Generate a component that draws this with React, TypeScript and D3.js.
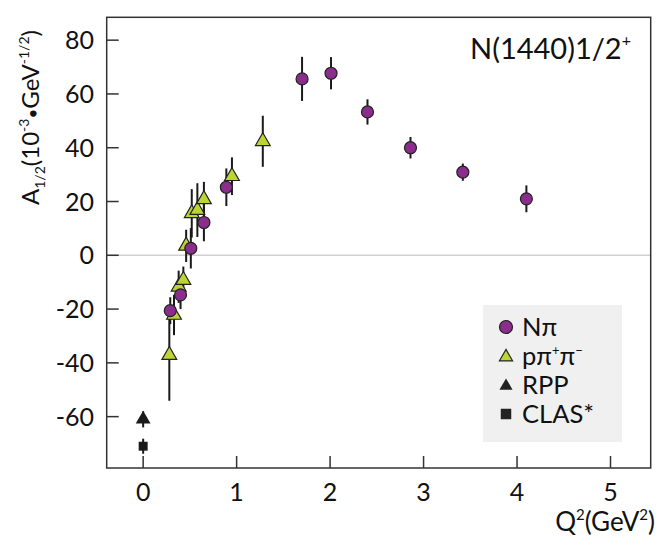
import React from 'react';
import * as d3 from 'd3';

// N pi analysis
const npiQ2 = [0.29, 0.4, 0.51, 0.65, 0.89, 1.7, 2.01, 2.4, 2.86, 3.42, 4.1];
const npiA = [-20.6, -14.7, 2.6, 12.2, 25.3, 65.6, 67.7, 53.3, 40.0, 30.9, 21.0];
const npiErr = [5, 5.3, 7.5, 7, 7, 8.2, 6, 4.7, 4, 3.2, 5];

// p pi+ pi- analysis
const pipiQ2 = [0.28, 0.33, 0.38, 0.43, 0.46, 0.52, 0.58, 0.65, 0.95, 1.28];
const pipiA = [-37.1, -22.2, -11.7, -9.2, 3.5, 15.6, 16.8, 20.8, 29.4, 42.4];
const pipiErr = [17, 7.5, 6, 5, 6, 9, 10, 6.5, 7, 9.5];

// photon points
const rppQ2 = [0];
const rppA = [-61];
const rppErr = [3];
const clasQ2 = [0];
const clasA = [-71];
const clasErr = [2.8];

const xTicks = [0, 1, 2, 3, 4, 5];
const yTicks = [-60, -40, -20, 0, 20, 40, 60, 80];

const W = 664;
const H = 546;
const m = { left: 106.7, top: 17.3, right: 650.7, bottom: 468 };
const PURPLE = '#8a2d8d';
const GREEN = '#bcd532';
const FONT = "Lato, 'Open Sans', sans-serif";

export default function App() {
  const x = d3.scaleLinear().domain([-0.39, 5.43]).range([m.left, m.right]);
  const y = d3.scaleLinear().domain([-79.1, 88.5]).range([m.bottom, m.top]);

  const tri = d3.symbol(d3.symbolTriangle, 95)();
  const triLeg = d3.symbol(d3.symbolTriangle, 75)();
  const sq = d3.symbol(d3.symbolSquare, 80)();
  const sqLeg = d3.symbol(d3.symbolSquare, 110)();

  const bars = (xs: number[], ys: number[], es: number[], key: string) =>
    xs.map((q, i) => (
      <line
        key={`${key}-${i}`}
        x1={x(q)}
        x2={x(q)}
        y1={y(ys[i] - es[i])}
        y2={y(ys[i] + es[i])}
        stroke="#1a1a1a"
        strokeWidth={2}
      />
    ));

  const legend = [
    { label: 'Nπ', kind: 'circle' },
    { label: 'pipi', kind: 'tri' },
    { label: 'RPP', kind: 'rpp' },
    { label: 'CLAS*', kind: 'clas' }
  ];

  return (
    <svg width={W} height={H} style={{ position: 'absolute', left: 0, top: 0 }} fontFamily={FONT}>
      <rect width={W} height={H} fill="#fff" />
      {/* zero line */}
      <line x1={m.left} x2={m.right} y1={y(0)} y2={y(0)} stroke="#d0d0d0" strokeWidth={1.5} />

      {/* legend */}
      <rect x={483} y={305} width={139} height={137} fill="#f0f0f0" />
      {legend.map((l, i) => {
        const cy = 327 + i * 29;
        const cx = 506;
        return (
          <g key={l.label}>
            {l.kind === 'circle' && (
              <circle cx={cx} cy={cy} r={6.5} fill={PURPLE} stroke="#222" strokeWidth={1.2} />
            )}
            {l.kind === 'tri' && (
              <path d={triLeg} transform={`translate(${cx},${cy + 1})`} fill={GREEN} stroke="#222" strokeWidth={1.2} />
            )}
            {l.kind === 'rpp' && <path d={triLeg} transform={`translate(${cx},${cy + 1})`} fill="#222" />}
            {l.kind === 'clas' && <path d={sqLeg} transform={`translate(${cx},${cy})`} fill="#222" />}
            <text x={522} y={cy + 9} fontSize={25.5} fill="#111">
              {l.kind === 'tri' ? (
                <>
                  pπ<tspan fontSize={13} dy={-10}>+</tspan>
                  <tspan dy={10}>π</tspan>
                  <tspan fontSize={13} dy={-10}>−</tspan>
                </>
              ) : (
                l.label
              )}
            </text>
          </g>
        );
      })}

      {/* frame */}
      <rect
        x={m.left}
        y={m.top}
        width={m.right - m.left}
        height={m.bottom - m.top}
        fill="none"
        stroke="#333"
        strokeWidth={1.5}
      />

      {/* y ticks */}
      {yTicks.map((t) => (
        <g key={`y${t}`}>
          <line x1={m.left} x2={m.left + 12} y1={y(t)} y2={y(t)} stroke="#333" strokeWidth={1.5} />
          <text x={94} y={y(t)} dy="0.36em" textAnchor="end" fontSize={25} fill="#111">
            {t}
          </text>
        </g>
      ))}
      {/* x ticks */}
      {xTicks.map((t) => (
        <g key={`x${t}`}>
          <line x1={x(t)} x2={x(t)} y1={m.bottom} y2={m.bottom - 12} stroke="#333" strokeWidth={1.5} />
          <text x={x(t)} y={501} textAnchor="middle" fontSize={25} fill="#111">
            {t}
          </text>
        </g>
      ))}

      {/* axis titles */}
      <text x={655} y={531} textAnchor="end" fontSize={26} fill="#111">
        Q<tspan fontSize={15} dy={-11}>2</tspan>
        <tspan dy={11}>(GeV</tspan>
        <tspan fontSize={15} dy={-11}>2</tspan>
        <tspan dy={11}>)</tspan>
      </text>
      <text transform="translate(39,205) rotate(-90)" fontSize={24} fill="#111">
        A<tspan fontSize={14} dy={6}>1/2</tspan>
        <tspan dy={-6}>(10</tspan>
        <tspan fontSize={14} dy={-10}>-3</tspan>
        <tspan dy={10} fontSize={17}>•</tspan>
        <tspan>GeV</tspan>
        <tspan fontSize={14} dy={-10}>-1/2</tspan>
        <tspan dy={10}>)</tspan>
      </text>

      {/* title */}
      <text x={470} y={59} fontSize={29} fill="#111">
        N(1440)1/2<tspan fontSize={16} dy={-13}>+</tspan>
      </text>

      {/* error bars */}
      {bars(pipiQ2, pipiA, pipiErr, 'pe')}
      {bars(npiQ2, npiA, npiErr, 'ne')}
      {bars(rppQ2, rppA, rppErr, 're')}
      {bars(clasQ2, clasA, clasErr, 'ce')}

      {/* markers */}
      {pipiQ2.map((q, i) => (
        <path
          key={`pt-${i}`}
          d={tri}
          transform={`translate(${x(q)},${y(pipiA[i])})`}
          fill={GREEN}
          stroke="#222"
          strokeWidth={1.2}
        />
      ))}
      {npiQ2.map((q, i) => (
        <circle key={`nc-${i}`} cx={x(q)} cy={y(npiA[i])} r={6} fill={PURPLE} stroke="#222" strokeWidth={1.2} />
      ))}
      {rppQ2.map((q, i) => (
        <path key={`r-${i}`} d={tri} transform={`translate(${x(q)},${y(rppA[i])})`} fill="#1a1a1a" />
      ))}
      {clasQ2.map((q, i) => (
        <path key={`c-${i}`} d={sq} transform={`translate(${x(q)},${y(clasA[i])})`} fill="#1a1a1a" />
      ))}
    </svg>
  );
}
